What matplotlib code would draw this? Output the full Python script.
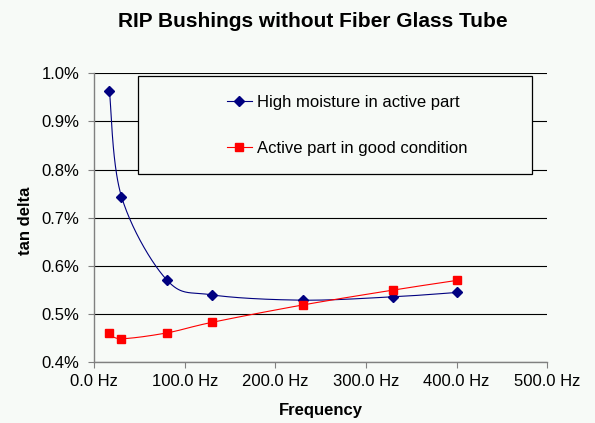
import numpy as np
import matplotlib
matplotlib.use("Agg")
import matplotlib.pyplot as plt
from matplotlib.patches import Rectangle
from matplotlib.lines import Line2D
from matplotlib.ticker import FuncFormatter, MultipleLocator

# Data (frequency in Hz, tan delta in %)
freq = [16.7, 30, 80, 130, 230, 330, 400]
high_moisture = [0.963, 0.744, 0.571, 0.540, 0.529, 0.536, 0.545]
good_condition = [0.460, 0.449, 0.461, 0.483, 0.519, 0.550, 0.570]

labels = ["High moisture in active part", "Active part in good condition"]

BG = "#f7faf7"
plt.rcParams["font.family"] = ["Liberation Sans", "DejaVu Sans"]

X_RANGE = (0, 500)
Y_RANGE = (0.4, 1.0)


def smooth(xs, ys, n=40):
    # Excel-like smoothed line: cubic Bezier through points, Catmull-Rom style control points
    # done in normalised axis space so the curve shape does not depend on units
    sx = (X_RANGE[1] - X_RANGE[0])
    sy = (Y_RANGE[1] - Y_RANGE[0]) * 0.64
    p = np.column_stack([np.asarray(xs) / sx, np.asarray(ys) / sy])
    out = []
    for i in range(len(p) - 1):
        p0 = p[i - 1] if i > 0 else p[i]
        p1, p2 = p[i], p[i + 1]
        p3 = p[i + 2] if i + 2 < len(p) else p[i + 1]
        c1 = p1 + (p2 - p0) / 6
        c2 = p2 - (p3 - p1) / 6
        t = np.linspace(0, 1, n)[:, None]
        seg = (1 - t) ** 3 * p1 + 3 * (1 - t) ** 2 * t * c1 + 3 * (1 - t) * t ** 2 * c2 + t ** 3 * p2
        out.append(seg if i == 0 else seg[1:])
    out = np.vstack(out)
    return out[:, 0] * sx, out[:, 1] * sy


fig = plt.figure(figsize=(5.95, 4.23), dpi=100, facecolor=BG)
ax = fig.add_axes([0.1585, 0.1435, 0.7613, 0.6832], facecolor=BG)

series = [
    (high_moisture, "#000080", "D", 5.5),
    (good_condition, "#ff0000", "s", 6),
]
for (vals, color, marker, ms) in series:
    sx, sy = smooth(freq, vals)
    ax.plot(sx, sy, color=color, lw=0.8, zorder=4)
    ax.plot(freq, vals, linestyle="none", marker=marker, ms=ms, color=color, zorder=5)

ax.set_xlim(*X_RANGE)
ax.set_ylim(*Y_RANGE)
ax.xaxis.set_major_locator(MultipleLocator(100))
ax.yaxis.set_major_locator(MultipleLocator(0.1))
ax.xaxis.set_major_formatter(FuncFormatter(lambda v, _: f"{v:.1f} Hz"))
ax.yaxis.set_major_formatter(FuncFormatter(lambda v, _: f"{v:.1f}%"))
ax.grid(axis="y", color="black", lw=0.8, zorder=1)
ax.set_axisbelow(True)

for s in ["top", "right"]:
    ax.spines[s].set_visible(False)
for s in ["left", "bottom"]:
    ax.spines[s].set_color("#808080")
    ax.spines[s].set_linewidth(1.0)
ax.tick_params(axis="both", direction="out", length=4.5, color="#808080",
               labelsize=12)
ax.tick_params(axis="y", pad=6)
ax.tick_params(axis="x", pad=4)

ax.set_xlabel("Frequency", fontsize=12, fontweight="bold")
ax.set_ylabel("tan delta", fontsize=12, fontweight="bold")
ax.xaxis.set_label_coords(0.5, -0.141)
ax.yaxis.set_label_coords(-0.135, 0.49)
fig.text(0.525, 0.948, "RIP Bushings without Fiber Glass Tube", ha="center", va="center",
         fontsize=15, fontweight="bold")

# legend box drawn over the gridlines
box = Rectangle((0.0958, 0.6512), 0.8702, 0.3395, transform=ax.transAxes,
                facecolor=BG, edgecolor="black", lw=0.9, zorder=6)
ax.add_patch(box)
handles = [Line2D([], [], color=c, marker=m, ms=ms, lw=0.8) for (_, c, m, ms) in series]
leg = ax.legend(handles, labels, loc="center left", bbox_to_anchor=(0.292, 0.8194),
                frameon=False, fontsize=12, labelspacing=1.85, handlelength=1.5,
                handletextpad=0.3, borderpad=0, borderaxespad=0)
leg.set_zorder(7)

fig.savefig("out.png", dpi=100, facecolor=BG)
